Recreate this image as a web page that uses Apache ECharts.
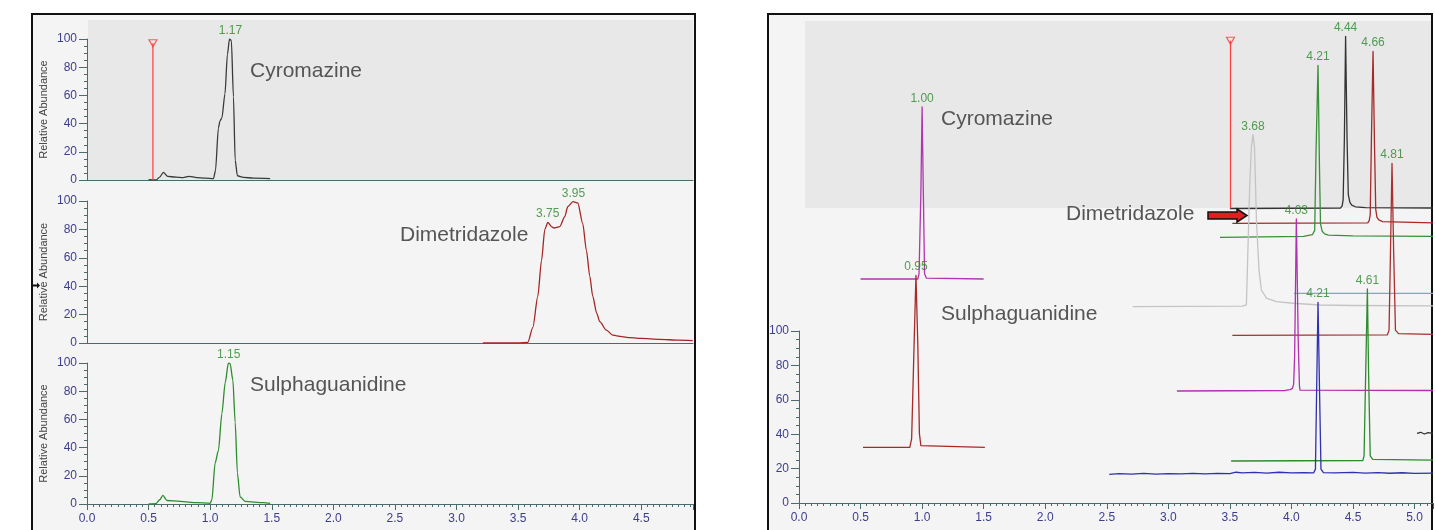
<!DOCTYPE html>
<html>
<head>
<meta charset="utf-8">
<title>Chromatograms</title>
<script src="https://cdn.jsdelivr.net/npm/echarts@6/dist/echarts.min.js"></script>
<style>
  html, body { margin: 0; padding: 0; background: #fff; }
  #chart { width: 1435px; height: 530px; }
</style>
</head>
<body>
<div id="chart"></div>
<script>
// ---- data: [retention time (min), relative abundance (%)] ----
const timeStep = 0.5;
const abundanceStep = 20;

// left panel, one trace per compound
const cyroLeft = [[0.50,0.2],[0.56,0],[0.59,2],[0.62,5.4],[0.655,2.6],[0.72,2.0],[0.78,1.7],[0.83,2.6],[0.89,1.7],[0.96,1.3],[1.027,1.0],[1.043,6.6],[1.067,37],[1.08,42],[1.095,44],[1.12,61],[1.14,89],[1.157,100],[1.172,99],[1.189,59],[1.203,14],[1.221,3],[1.27,1.9],[1.35,1.3],[1.487,1]];
const dimetLeft = [[3.214,0],[3.5,0],[3.579,0.5],[3.62,11],[3.66,33],[3.69,58],[3.717,80],[3.741,85],[3.771,82],[3.79,81],[3.839,82],[3.879,89],[3.903,96],[3.946,99.5],[3.985,98.6],[4.025,84],[4.055,65],[4.082,47],[4.106,33],[4.138,21],[4.163,15],[4.217,9],[4.268,5.6],[4.30,5],[4.33,4.6],[4.38,4],[4.5,3.2],[4.65,2.6],[4.8,2],[4.918,1.7]];
const sulphaLeft = [[0.50,0],[0.56,0.3],[0.59,3],[0.616,6.1],[0.649,2.5],[0.757,1.8],[0.892,1.0],[1.0,0.5],[1.014,3],[1.04,29],[1.067,38],[1.095,64],[1.122,86],[1.148,100],[1.162,99.5],[1.184,88],[1.203,58],[1.221,22],[1.243,5],[1.284,1.8],[1.432,1],[1.487,0.5]];

const cyroLeftPeaks = [[1.165,100,'1.17']];
const dimetLeftPeaks = [[3.741,85,'3.75'],[3.95,99.5,'3.95']];
const sulphaLeftPeaks = [[1.15,100,'1.15']];
const markerLeft = [[0.535,0],[0.535,97]];

// right panel, offset overlay of many traces
const black444 = [[3.50,0],[4.40,0.3],[4.412,1.5],[4.42,5],[4.43,40],[4.44,100],[4.452,40],[4.462,8],[4.475,3.5],[4.49,2],[4.52,1],[4.6,0.5],[5.15,0.3]];
const brown466 = [[3.52,0],[4.62,0.3],[4.632,1.5],[4.64,5],[4.65,50],[4.663,100],[4.675,45],[4.685,8],[4.695,3.5],[4.71,2],[4.74,1],[5.15,0.3]];
const green421 = [[3.42,0],[4.10,0.5],[4.17,1.5],[4.189,4],[4.20,50],[4.216,100],[4.228,40],[4.236,8],[4.25,3.5],[4.27,2],[4.30,1.3],[4.5,0.8],[5.15,0.5]];
const teal = [[4.02,0],[5.15,0]];
const grey368 = [[2.71,0],[3.60,0.3],[3.634,1],[3.661,70],[3.675,93],[3.688,100],[3.70,93],[3.716,50],[3.737,21],[3.756,9.7],[3.797,5],[3.878,3],[4.013,2],[4.23,1],[4.5,0.7],[5.15,0.5]];
const brown481 = [[3.52,0],[4.78,0.3],[4.793,3],[4.805,50],[4.817,100],[4.83,50],[4.845,3],[4.87,1],[5.15,0.5]];
const purple403 = [[3.07,0],[3.95,0.3],[3.99,0.8],[4.008,1.5],[4.018,4],[4.026,20],[4.04,100],[4.055,30],[4.065,3],[4.07,0.5],[5.15,0.3]];
const blackTail = [[5.02,0],[5.05,0.6],[5.08,-0.4],[5.11,0.4],[5.15,0]];
const green461 = [[3.51,0],[4.58,0.3],[4.59,3],[4.603,50],[4.617,100],[4.627,50],[4.64,3],[4.66,1],[5.15,0.5]];
const blue421 = [[2.52,0],[2.6,0.4],[2.7,0.1],[2.8,0.5],[2.9,0.1],[3.0,0.4],[3.1,0.2],[3.2,0.5],[3.3,0.2],[3.4,0.5],[3.5,0.4],[3.55,1.2],[3.6,0.8],[3.7,1.1],[3.8,0.7],[3.9,1.2],[4.0,0.8],[4.1,1.0],[4.18,0.8],[4.195,3],[4.205,50],[4.216,100],[4.228,50],[4.24,3],[4.26,1],[4.35,0.8],[4.5,1.1],[4.6,0.7],[4.7,1.0],[4.8,0.6],[4.9,0.9],[5.0,0.5],[5.15,0.7]];
const purple100 = [[0.5,0],[0.965,0],[0.975,3],[0.99,50],[1.0,100],[1.01,50],[1.02,3],[1.035,0.5],[1.5,0]];
const brown095 = [[0.52,0],[0.90,0],[0.915,5],[0.935,60],[0.95,100],[0.965,60],[0.978,8],[0.99,1],[1.51,0]];

const markerRight = [[3.505,0],[3.505,97.5]];

// ---- look ----
const FONT = '"Liberation Sans", Arial, sans-serif';
const AXIS = '#4a6b6b';
const TICK_TXT = '#3d3d8f';
const PEAK_TXT = '#2a862a';
const RED = '#ff3b3b';

const LEFT_MAX = 4.92, RIGHT_MAX = 5.15;

const leftPanels = [
  { top: 39, height: 141, data: cyroLeft, peaks: cyroLeftPeaks, color: '#3a3a3a', labels: false },
  { top: 201, height: 142, data: dimetLeft, peaks: dimetLeftPeaks, color: '#a52424', labels: false },
  { top: 363, height: 141, data: sulphaLeft, peaks: sulphaLeftPeaks, color: '#2e8b2e', labels: true }
];

// baseline = pixel row of each trace's zero line in the offset view
const rightTraces = [
  { data: black444, color: '#333333', base: 208.5, peaks: [[4.44,100,'4.44']], marker: true },
  { data: brown466, color: '#a52a2a', base: 223.3, peaks: [[4.663,100,'4.66']] },
  { data: green421, color: '#3a8f3a', base: 237.3, peaks: [[4.216,100,'4.21']] },
  { data: purple100, color: '#b035b0', base: 279, peaks: [[1.0,100,'1.00']] },
  { data: teal, color: '#62b8b8', base: 293.3, peaks: [] },
  { data: grey368, color: '#c4c4c4', base: 306.7, peaks: [[3.688,100,'3.68']] },
  { data: brown481, color: '#a83030', base: 335.3, peaks: [[4.817,100,'4.81']] },
  { data: purple403, color: '#b030b0', base: 391, peaks: [[4.04,100,'4.03']] },
  { data: blackTail, color: '#333333', base: 433.3, peaks: [] },
  { data: brown095, color: '#a52a2a', base: 447.3, peaks: [[0.95,100,'0.95']] },
  { data: green461, color: '#2e8b2e', base: 461, peaks: [[4.617,100,'4.61']] },
  { data: blue421, color: '#3030b0', base: 474.3, peaks: [[4.216,100,'4.21']] }
];

const chart = echarts.init(document.getElementById('chart'));

const grid = [], xAxis = [], yAxis = [], series = [];

const tickLabel = { color: TICK_TXT, fontSize: 12, fontFamily: FONT };

function yAxisVisible(gi, withName) {
  return {
    gridIndex: gi, type: 'value', min: 0, max: 100, interval: abundanceStep,
    axisLine: { show: true, lineStyle: { color: AXIS, width: 1 } },
    axisTick: { show: true, length: 8, lineStyle: { color: AXIS } },
    minorTick: { show: true, splitNumber: 4, length: 3, lineStyle: { color: AXIS } },
    splitLine: { show: false },
    axisLabel: Object.assign({ margin: 10 }, tickLabel),
    name: withName ? 'Relative Abundance' : '',
    nameLocation: 'middle', nameGap: 38,
    nameTextStyle: { color: '#444', fontSize: 11, fontFamily: FONT }
  };
}

function xAxisVisible(gi, max, labels) {
  return {
    gridIndex: gi, type: 'value', min: 0, max: max, interval: timeStep,
    axisLine: { show: true, onZero: false, lineStyle: { color: AXIS, width: 1 } },
    axisTick: { show: labels, length: 6, lineStyle: { color: AXIS } },
    minorTick: { show: labels, splitNumber: 10, length: 3, lineStyle: { color: AXIS } },
    splitLine: { show: false },
    axisLabel: Object.assign({ show: labels, margin: 9, showMaxLabel: false,
      formatter: v => v.toFixed(1) }, tickLabel)
  };
}

function peakSeries(gi, peaks) {
  return {
    type: 'scatter', xAxisIndex: gi, yAxisIndex: gi, data: peaks,
    symbolSize: 1, itemStyle: { color: 'rgba(0,0,0,0)' }, silent: true, z: 5,
    label: { show: true, position: 'top', distance: 2, formatter: p => p.value[2],
      color: PEAK_TXT, fontSize: 12, fontFamily: FONT }
  };
}

function markerSeries(gi, pts) {
  return [
    { type: 'line', xAxisIndex: gi, yAxisIndex: gi, data: pts, showSymbol: false,
      lineStyle: { color: RED, width: 1.2 }, silent: true, z: 4 },
    { type: 'scatter', xAxisIndex: gi, yAxisIndex: gi, data: [pts[pts.length - 1]],
      symbol: 'triangle', symbolRotate: 180, symbolSize: [8, 7],
      itemStyle: { color: 'rgba(0,0,0,0)', borderColor: RED, borderWidth: 1.2 }, silent: true, z: 4 }
  ];
}

// left stacked panels
leftPanels.forEach((p, i) => {
  grid.push({ left: 87, width: 606, top: p.top, height: p.height });
  xAxis.push(xAxisVisible(i, LEFT_MAX, p.labels));
  yAxis.push(yAxisVisible(i, true));
  series.push({
    type: 'line', xAxisIndex: i, yAxisIndex: i, data: p.data, showSymbol: false,
    smooth: 0.25, smoothMonotone: 'x', lineStyle: { color: p.color, width: 1.3 }, silent: true
  });
  series.push(peakSeries(i, p.peaks));
});
series.push(...markerSeries(0, markerLeft));

// right panel: axis frame grid
const axisGi = grid.length;
grid.push({ left: 799, width: 634, top: 331, height: 172 });
xAxis.push(xAxisVisible(axisGi, RIGHT_MAX, true));
yAxis.push(yAxisVisible(axisGi, false));

// right panel: one hidden-axis grid per trace, shifted to its baseline
rightTraces.forEach(t => {
  const gi = grid.length;
  grid.push({ left: 799, width: 634, top: t.base - 172, height: 172 });
  xAxis.push({ gridIndex: gi, type: 'value', min: 0, max: RIGHT_MAX, show: false });
  yAxis.push({ gridIndex: gi, type: 'value', min: 0, max: 100, show: false });
  series.push({
    type: 'line', xAxisIndex: gi, yAxisIndex: gi, data: t.data, showSymbol: false,
    smooth: false, clip: false,
    lineStyle: { color: t.color, width: 1.3, join: 'round' }, silent: true
  });
  if (t.peaks.length) series.push(peakSeries(gi, t.peaks));
  if (t.marker) series.push(...markerSeries(gi, markerRight));
});

const nameStyle = { fill: '#555', fontSize: 21, fontFamily: FONT, textVerticalAlign: 'middle' };

const option = {
  backgroundColor: '#ffffff',
  animation: false,
  grid: grid,
  xAxis: xAxis,
  yAxis: yAxis,
  series: series,
  graphic: [
    { type: 'rect', z: -10, shape: { x: 32, y: 14, width: 663, height: 530 },
      style: { fill: '#f4f4f4', stroke: '#111', lineWidth: 2 } },
    { type: 'rect', z: -10, shape: { x: 768, y: 14, width: 664, height: 530 },
      style: { fill: '#f4f4f4', stroke: '#111', lineWidth: 2 } },
    { type: 'rect', z: -9, shape: { x: 88, y: 20, width: 605, height: 160 },
      style: { fill: '#e8e8e8' } },
    { type: 'rect', z: -9, shape: { x: 805, y: 21, width: 626, height: 187 },
      style: { fill: '#e8e8e8' } },
    { type: 'text', z: 50, left: 250, top: 61, style: Object.assign({ text: 'Cyromazine' }, nameStyle) },
    { type: 'text', z: 50, left: 400, top: 225, style: Object.assign({ text: 'Dimetridazole' }, nameStyle) },
    { type: 'text', z: 50, left: 250, top: 375, style: Object.assign({ text: 'Sulphaguanidine' }, nameStyle) },
    { type: 'text', z: 50, left: 941, top: 109, style: Object.assign({ text: 'Cyromazine' }, nameStyle) },
    { type: 'text', z: 50, left: 1066, top: 204, style: Object.assign({ text: 'Dimetridazole' }, nameStyle) },
    { type: 'text', z: 50, left: 941, top: 304, style: Object.assign({ text: 'Sulphaguanidine' }, nameStyle) },
    { type: 'polygon', z: 50,
      shape: { points: [[1208,212],[1237,212],[1237,209],[1247,215.5],[1237,222],[1237,219],[1208,219]] },
      style: { fill: '#e02020', stroke: '#111', lineWidth: 1.5 } },
    { type: 'polygon', z: 50,
      shape: { points: [[33,284.5],[37,284.5],[37,282.5],[40,285.5],[37,288.5],[37,286.5],[33,286.5]] },
      style: { fill: '#111' } }
  ]
};

chart.setOption(option);
</script>
</body>
</html>
